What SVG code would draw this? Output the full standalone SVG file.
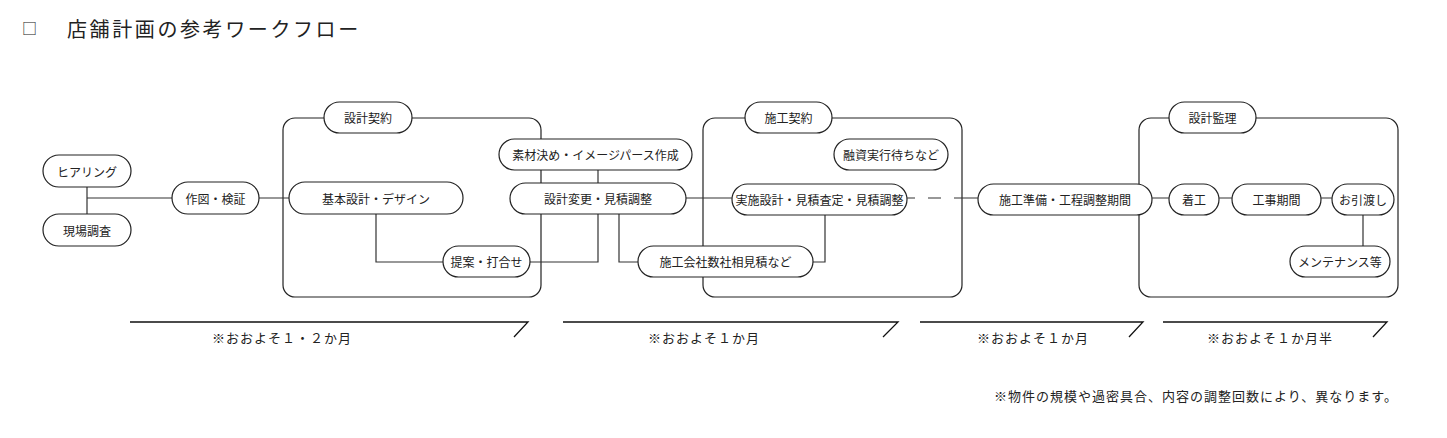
<svg xmlns="http://www.w3.org/2000/svg" width="1447" height="438" viewBox="0 0 1447 438">
<style>
text{font-family:"Noto Sans CJK JP","Noto Sans",sans-serif;fill:#222;dominant-baseline:central}
.n rect{fill:#fff;stroke:#222;stroke-width:1.2}
.n text{font-size:12px;text-anchor:middle}
.grp{fill:none;stroke:#222;stroke-width:1.2}
.c{fill:none;stroke:#333;stroke-width:1.2}
.arr{fill:none;stroke:#111;stroke-width:1.3}
.note{font-size:13px;letter-spacing:1px}
</style>
<rect width="1447" height="438" fill="#fff"/>
<g id="title">
<text x="22" y="27" style="font-size:15px">□</text>
<text x="67" y="28" style="font-size:20px;letter-spacing:2.6px">店舗計画の参考ワークフロー</text>
</g>
<g id="groups">
<rect class="grp" x="283" y="118" width="258" height="179" rx="12"/>
<rect class="grp" x="703" y="118" width="259" height="179" rx="12"/>
<rect class="grp" x="1139" y="118" width="259" height="179" rx="12"/>
</g>
<g id="connectors">
<path class="c" d="M87,187V214M87,198H172M259,198H289M376,214V262H443M598,170V183M598,214V262H530M619,214V262H638M813,262H825V215M686,198H732M1152,198H1169M1219,198H1232M1321,198H1332M1363,215V246"/>
<path class="c" d="M907,198H978" stroke-dasharray="8 13 13 13 100"/>
</g>
<g id="hearing" class="n"><rect x="43" y="155" width="88" height="32" rx="16"/><text x="87" y="171">ヒアリング</text></g>
<g id="genba" class="n"><rect x="43" y="214" width="88" height="32" rx="16"/><text x="87" y="230">現場調査</text></g>
<g id="sakuzu" class="n"><rect x="172" y="182" width="87" height="32" rx="16"/><text x="215.5" y="198">作図・検証</text></g>
<g id="sekkei-keiyaku" class="n"><rect x="324" y="102" width="88" height="31" rx="15.5"/><text x="368" y="117.5">設計契約</text></g>
<g id="kihon" class="n"><rect x="289" y="182" width="174" height="32" rx="16"/><text x="376" y="198">基本設計・デザイン</text></g>
<g id="teian" class="n"><rect x="443" y="246" width="87" height="31" rx="15.5"/><text x="486.5" y="261.5">提案・打合せ</text></g>
<g id="sozai" class="n"><rect x="499" y="139" width="193" height="31" rx="15.5"/><text x="595.5" y="154.5">素材決め・イメージパース作成</text></g>
<g id="henkou" class="n"><rect x="510" y="183" width="176" height="31" rx="15.5"/><text x="598" y="198.5">設計変更・見積調整</text></g>
<g id="sekou-keiyaku" class="n"><rect x="745" y="102" width="87" height="31" rx="15.5"/><text x="788.5" y="117.5">施工契約</text></g>
<g id="yushi" class="n"><rect x="834" y="139" width="114" height="31" rx="15.5"/><text x="891" y="154.5">融資実行待ちなど</text></g>
<g id="jisshi" class="n"><rect x="732" y="184" width="175" height="31" rx="15.5"/><text x="819.5" y="199.5">実施設計・見積査定・見積調整</text></g>
<g id="aimitsu" class="n"><rect x="638" y="246" width="175" height="31" rx="15.5"/><text x="725.5" y="261.5">施工会社数社相見積など</text></g>
<g id="junbi" class="n"><rect x="978" y="184" width="174" height="31" rx="15.5"/><text x="1065" y="199.5">施工準備・工程調整期間</text></g>
<g id="kanri" class="n"><rect x="1169" y="102" width="87" height="31" rx="15.5"/><text x="1212.5" y="117.5">設計監理</text></g>
<g id="chakko" class="n"><rect x="1169" y="184" width="50" height="31" rx="15.5"/><text x="1194" y="199.5">着工</text></g>
<g id="kouji" class="n"><rect x="1232" y="184" width="89" height="31" rx="15.5"/><text x="1276.5" y="199.5">工事期間</text></g>
<g id="hikiwatashi" class="n"><rect x="1332" y="184" width="62" height="31" rx="15.5"/><text x="1363" y="199.5">お引渡し</text></g>
<g id="maintenance" class="n"><rect x="1290" y="246" width="100" height="31" rx="15.5"/><text x="1340" y="261.5">メンテナンス等</text></g>
<g id="timeline">
<polyline class="arr" points="130,322 528,322 514,337"/>
<polyline class="arr" points="563,322 898,322 883,337"/>
<polyline class="arr" points="920,322 1143,322 1129,337"/>
<polyline class="arr" points="1163,322 1387,322 1373,337"/>
<text class="note" x="212" y="337.5">※おおよそ１・２か月</text>
<text class="note" x="648" y="337.5">※おおよそ１か月</text>
<text class="note" x="977" y="337.5">※おおよそ１か月</text>
<text class="note" x="1207" y="337.5">※おおよそ１か月半</text>
<text class="note" x="994" y="395">※物件の規模や過密具合、内容の調整回数により、異なります。</text>
</g>
</svg>
